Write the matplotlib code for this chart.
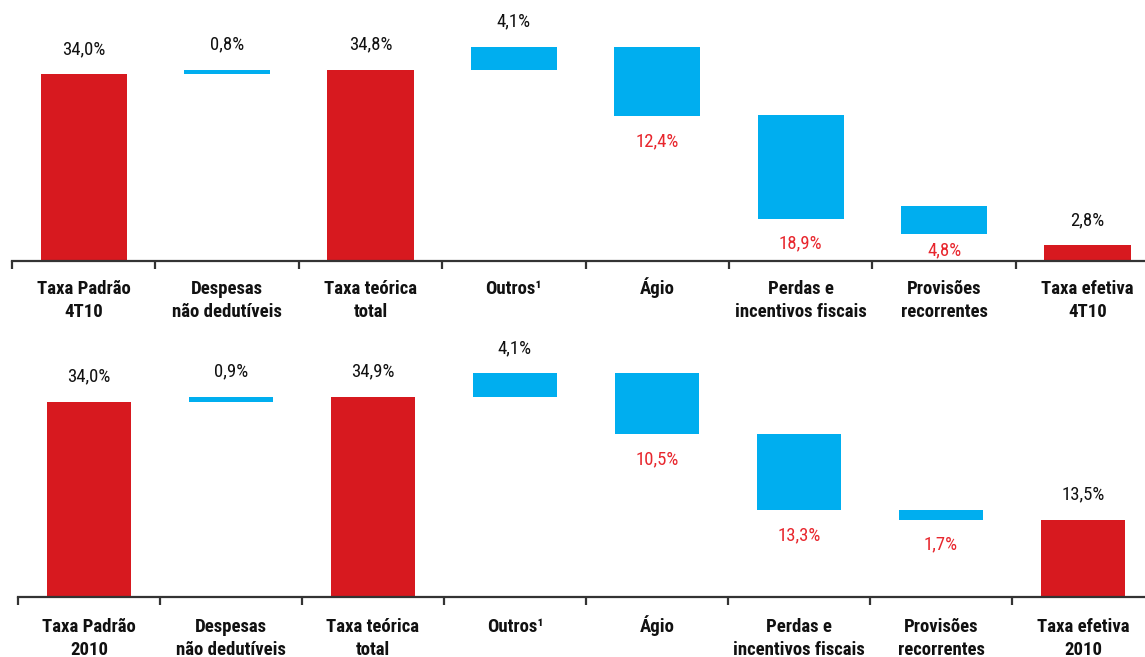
import matplotlib.pyplot as plt
import numpy as np

# DATOS
# -----
categorias_4t10 = ['Taxa Padrão\n4T10', 'Despesas\nnão dedutíveis', 'Taxa teórica\ntotal', 'Outros¹',
                   'Ágio', 'Perdas e\nincentivos fiscais', 'Provisões\nrecorrentes', 'Taxa efetiva\n4T10']
categorias_2010 = ['Taxa Padrão\n2010', 'Despesas\nnão dedutíveis', 'Taxa teórica\ntotal', 'Outros¹',
                   'Ágio', 'Perdas e\nincentivos fiscais', 'Provisões\nrecorrentes', 'Taxa efetiva\n2010']

# base y topo de cada barra (%)
base_4t10 = [0, 34.0, 0, 34.8, 26.3, 7.7, 4.9, 0]
topo_4t10 = [34.0, 34.8, 34.8, 39.0, 39.0, 26.5, 10.0, 2.9]
rotulos_4t10 = ['34,0%', '0,8%', '34,8%', '4,1%', '12,4%', '18,9%', '4,8%', '2,8%']

base_2010 = [0, 34.0, 0, 34.9, 28.4, 15.1, 13.5, 0]
topo_2010 = [34.0, 34.9, 34.9, 39.0, 39.0, 28.4, 15.1, 13.5]
rotulos_2010 = ['34,0%', '0,9%', '34,9%', '4,1%', '10,5%', '13,3%', '1,7%', '13,5%']

# True = total (vermelho), False = variação (azul)
totais = [True, False, True, False, False, False, False, True]
# True = aumento (rótulo acima), False = redução (rótulo abaixo, vermelho)
sobe = [True, True, True, True, False, False, False, True]

VERMELHO = '#d7191f'
AZUL = '#00aeef'
TXT_VERMELHO = '#e8262d'

plt.rcParams['font.family'] = ['Roboto Condensed', 'Liberation Sans Narrow', 'Roboto', 'DejaVu Sans']

W, H = 1145, 657
fig = plt.figure(figsize=(W / 100, H / 100), dpi=100)


def painel(rect, x_esq, passo, px_por_pct, base, topo, rotulos, categorias, largura, base_txt):
    ax = fig.add_axes(rect)
    x = np.arange(len(categorias))
    cores = [VERMELHO if t else AZUL for t in totais]
    ax.bar(x, np.array(topo) - np.array(base), bottom=base, width=largura, color=cores)

    for s in ['top', 'right', 'left']:
        ax.spines[s].set_visible(False)
    ax.spines['bottom'].set_linewidth(1.6)
    ax.spines['bottom'].set_color('#333333')
    ax.set_yticks([])
    ax.set_xticks(np.arange(-0.5, len(x), 1.0))
    ax.set_xticklabels([])
    ax.tick_params(axis='x', direction='out', length=6, width=1.6, color='#333333')

    # limites depois dos ticks (set_xticks alarga a vista)
    ax.set_xlim(-0.5, -0.5 + (W - x_esq) / passo)
    altura_px = rect[3] * H
    ax.set_ylim(0, altura_px / px_por_pct)

    off = 25 / px_por_pct
    for i in range(len(x)):
        if sobe[i]:
            ax.text(x[i], topo[i] + off, rotulos[i], ha='center', va='center',
                    fontsize=13.5, color='#111111')
        else:
            y = max(base[i] - off, 11 / px_por_pct)
            ax.text(x[i], y, rotulos[i], ha='center', va='center',
                    fontsize=13.5, color=TXT_VERMELHO)
        # cada linha do rótulo da categoria em separado
        for j, linha in enumerate(categorias[i].split('\n')):
            ax.text(x[i], -(base_txt + 23 * j) / px_por_pct, linha, ha='center', va='baseline',
                    fontsize=13.5, fontweight='bold', color='#111111', clip_on=False)
    return ax


painel([12 / W, 1 - 261 / H, 1 - 12 / W, 261 / H], 12, 143.4, 5.5,
       base_4t10, topo_4t10, rotulos_4t10, categorias_4t10, 0.6, 33)
painel([18 / W, 1 - 597 / H, 1 - 18 / W, (597 - 335) / H], 18, 142.0, 5.74,
       base_2010, topo_2010, rotulos_2010, categorias_2010, 0.59, 35)

plt.savefig('out.png', dpi=100)
